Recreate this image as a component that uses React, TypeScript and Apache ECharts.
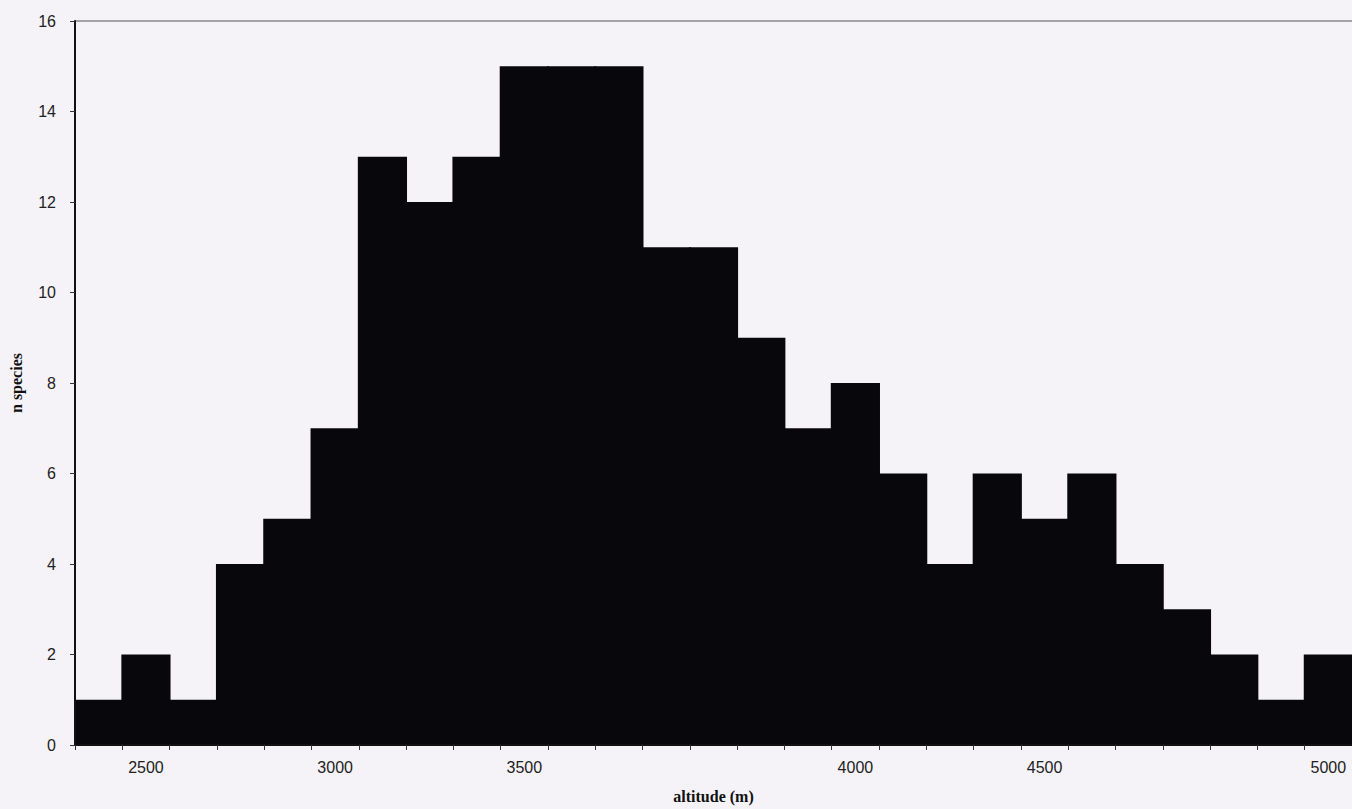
import React, { useEffect, useRef } from "react";
import * as echarts from "echarts";

// Histogram bins (27 bars, left to right)
const binIds = [
  "b01", "b02", "b03", "b04", "b05", "b06", "b07", "b08", "b09", "b10",
  "b11", "b12", "b13", "b14", "b15", "b16", "b17", "b18", "b19", "b20",
  "b21", "b22", "b23", "b24", "b25", "b26", "b27",
];
const speciesCounts = [
  1, 2, 1, 4, 5, 7, 13, 12, 13, 15, 15, 15, 11, 11, 9, 7, 8, 6, 4, 6, 5, 6, 4, 3, 2, 1, 2,
];
// Tick labels shown under particular bars (as in the original figure)
const tickLabels = [
  "", "2500", "", "", "", "3000", "", "", "", "3500", "", "", "", "", "", "",
  "4000", "", "", "", "4500", "", "", "", "", "", "5000",
];
const yTicks = { min: 0, max: 16, interval: 2 };

export default function App() {
  const ref = useRef<HTMLDivElement>(null);
  useEffect(() => {
    if (!ref.current) return;
    const chart = echarts.init(ref.current, undefined, { renderer: "svg" });
    const labelFont = {
      fontFamily: "'Liberation Sans', Arial, sans-serif",
      fontSize: 16,
      color: "#222",
    };
    const nameFont = {
      fontFamily: "'Liberation Serif', 'Times New Roman', serif",
      fontSize: 16,
      fontWeight: "bold" as const,
      color: "#111",
    };
    const barColor = "#08080c";
    chart.setOption({
      animation: false,
      backgroundColor: "#f5f3f7",
      grid: { left: 73, right: 0, top: 21, bottom: 59, containLabel: false },
      xAxis: [
        {
          type: "category",
          data: binIds,
          boundaryGap: true,
          name: "altitude (m)",
          nameLocation: "middle",
          nameGap: 43,
          nameTextStyle: nameFont,
          z: 5,
          axisLine: { lineStyle: { color: "#111", width: 2 } },
          axisTick: { show: true, interval: 0, length: 5, inside: false, lineStyle: { color: "#333" } },
          axisLabel: {
            ...labelFont,
            interval: 0,
            margin: 14,
            formatter: (_v: string, i: number) => tickLabels[i] ?? "",
          },
          splitLine: { show: false },
        },
        {
          type: "category",
          data: binIds,
          position: "top",
          axisLine: { show: true, lineStyle: { color: "#8a8a8a", width: 1.5 } },
          axisTick: { show: false },
          axisLabel: { show: false },
          splitLine: { show: false },
        },
      ],
      yAxis: {
        type: "value",
        min: yTicks.min,
        max: yTicks.max,
        interval: yTicks.interval,
        name: "n species",
        nameLocation: "middle",
        nameRotate: 90,
        nameGap: 51,
        nameTextStyle: nameFont,
        z: 5,
        axisLine: { show: true, lineStyle: { color: "#111", width: 2 } },
        axisTick: { show: true, length: 5, lineStyle: { color: "#333" } },
        axisLabel: { ...labelFont, margin: 19 },
        splitLine: { show: false },
      },
      series: [
        {
          type: "bar",
          data: speciesCounts,
          barWidth: "104%",
          barGap: "0%",
          itemStyle: { color: barColor },
          silent: true,
        },
      ],
    });
    return () => chart.dispose();
  }, []);
  return (
    <div
      ref={ref}
      style={{ position: "fixed", left: 0, top: 0, width: 1352, height: 809 }}
    />
  );
}
